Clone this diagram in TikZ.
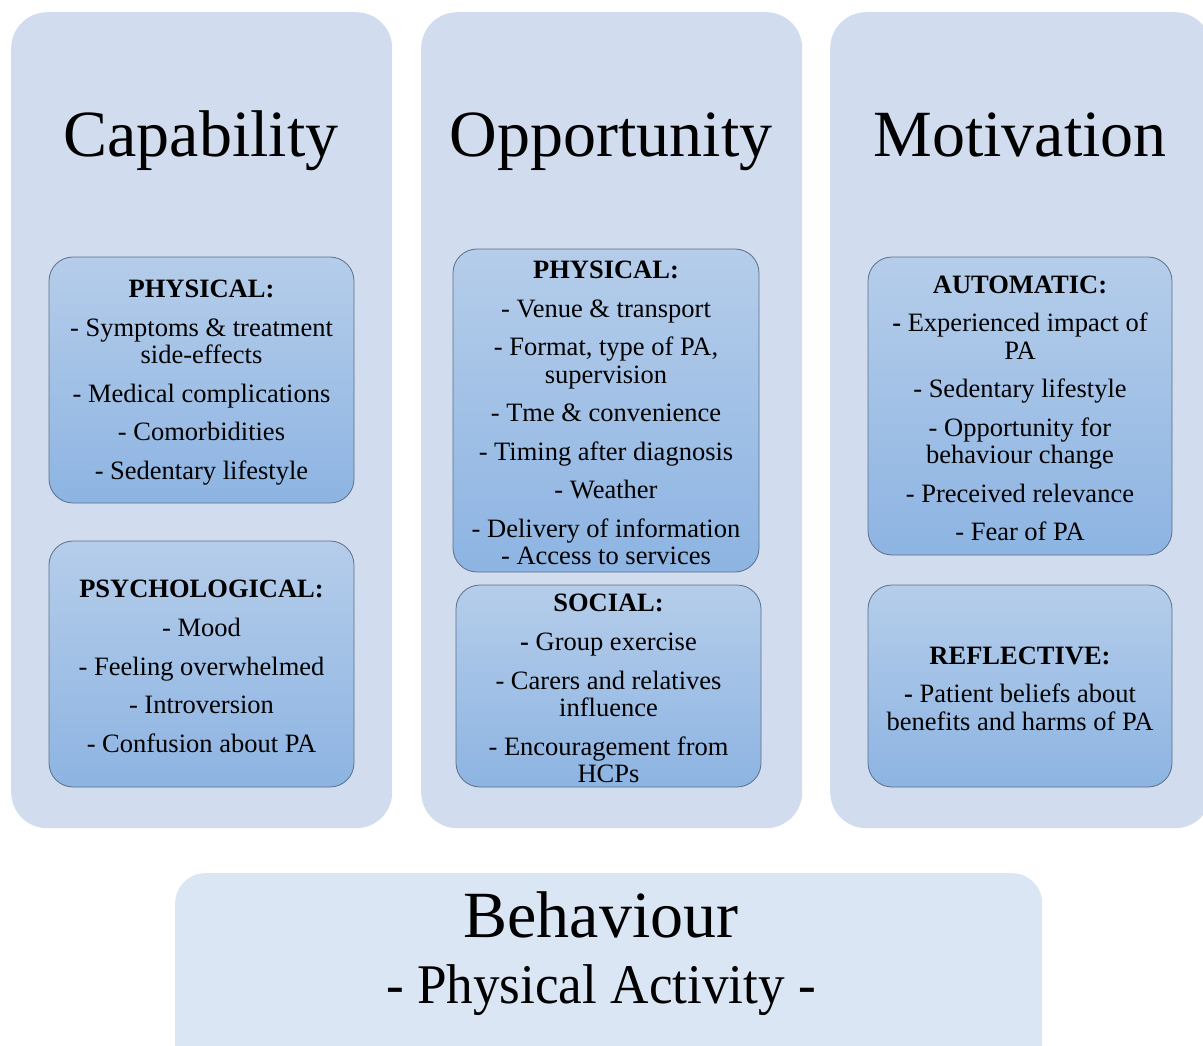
\documentclass[tikz,border=0pt]{standalone}
\usepackage{fontspec}
\setmainfont{Liberation Serif}
\definecolor{colfill}{HTML}{D1DDEF}
\definecolor{behfill}{HTML}{DBE6F4}
\definecolor{boxtop}{HTML}{B5CDEA}
\definecolor{boxbot}{HTML}{8DB4E2}
\definecolor{boxline}{HTML}{5B6F86}
\newcommand{\ngap}{\\[11.3pt]}
\begin{document}
\begin{tikzpicture}[x=1pt,y=-1pt,
  colbox/.style={rectangle,fill=colfill,rounded corners=36pt,minimum width=381pt,minimum height=816pt,inner sep=0pt,anchor=north west},
  coltitle/.style={anchor=base,inner sep=0pt,font=\fontsize{66}{70}\selectfont},
  innerbox/.style={rectangle,draw=boxline,line width=0.8pt,rounded corners=24pt,top color=boxtop,bottom color=boxbot,inner sep=0pt},
  boxtext/.style={align=center,inner sep=0pt,yshift=-2.5pt,font=\fontsize{26.5}{27.3}\selectfont},
  behbox/.style={rectangle,fill=behfill,rounded corners=30pt,minimum width=867pt,minimum height=220pt,inner sep=0pt,anchor=north west}
]
\useasboundingbox (0,0) rectangle (1203,1046);
\clip (0,0) rectangle (1203,1046);
% columns
\node[colbox] (capcol) at (11,12) {};
\node[colbox] (oppcol) at (421,12) {};
\node[colbox] (motcol) at (830,12) {};
% titles
\node[coltitle] (capt) at (201,157) {Capability};
\node[coltitle] (oppt) at (611,157) {Opportunity};
\node[coltitle] (mott) at (1020,157) {Motivation};
% inner boxes
\node[innerbox,minimum width=305pt,minimum height=246pt] (capphys) at (201.5,380) {};
\node[boxtext] (capphystxt) at (capphys.center) {%
\textbf{PHYSICAL:}\ngap
- Symptoms \& treatment\\ side-effects\ngap
- Medical complications\ngap
- Comorbidities\ngap
- Sedentary lifestyle};
\node[innerbox,minimum width=305pt,minimum height=246pt] (cappsy) at (201.5,664) {};
\node[boxtext] (cappsytxt) at (cappsy.center) {%
\textbf{PSYCHOLOGICAL:}\ngap
- Mood\ngap
- Feeling overwhelmed\ngap
- Introversion\ngap
- Confusion about PA};
\node[innerbox,minimum width=306pt,minimum height=323pt] (oppphys) at (606,410.5) {};
\node[boxtext] (oppphystxt) at (oppphys.center) {%
\textbf{PHYSICAL:}\ngap
- Venue \& transport\ngap
- Format, type of PA,\\ supervision\ngap
- Tme \& convenience\ngap
- Timing after diagnosis\ngap
- Weather\ngap
- Delivery of information\\ - Access to services};
\node[innerbox,minimum width=305pt,minimum height=202pt] (oppsoc) at (608.5,686) {};
\node[boxtext] (oppsoctxt) at (oppsoc.center) {%
\textbf{SOCIAL:}\ngap
\textbf{-} Group exercise\ngap
- Carers and relatives\\ influence\ngap
- Encouragement from\\ HCPs};
\node[innerbox,minimum width=304pt,minimum height=298pt] (motauto) at (1020,406) {};
\node[boxtext] (motautotxt) at (motauto.center) {%
\textbf{AUTOMATIC:}\ngap
\textbf{-} Experienced impact of\\ PA\ngap
- Sedentary lifestyle\ngap
- Opportunity for\\ behaviour change\ngap
- Preceived relevance\ngap
- Fear of PA};
\node[innerbox,minimum width=304pt,minimum height=202pt] (motrefl) at (1020,686) {};
\node[boxtext] (motrefltxt) at (motrefl.center) {%
\textbf{REFLECTIVE:}\ngap
\textbf{-} Patient beliefs about\\ benefits and harms of PA};
% behaviour
\node[behbox] (beh) at (175,873) {};
\node[anchor=base,inner sep=0pt,font=\fontsize{66}{70}\selectfont] (behtitle) at (601,937) {Behaviour};
\node[anchor=base,inner sep=0pt,font=\fontsize{56}{60}\selectfont,xscale=0.95] (behsub) at (601,1003) {- Physical Activity -};
\end{tikzpicture}
\end{document}
